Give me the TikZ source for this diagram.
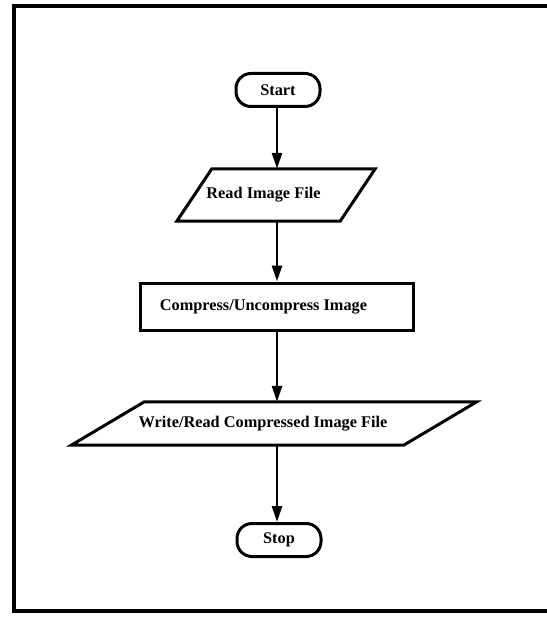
\documentclass[tikz,border=0pt]{standalone}
\usepackage{fontspec}
\setmainfont{Liberation Serif}
\usetikzlibrary{arrows.meta}
\newcommand{\padr}[1]{\makebox[#1]{}}
\begin{document}
\begin{tikzpicture}[x=1pt,y=-1pt,
  lbl/.style={font=\fontsize{16.3}{18}\selectfont\bfseries},
  term/.style={draw, line width=3pt, rounded corners=15pt, minimum width=84pt, minimum height=33pt, inner sep=0pt, lbl},
  proc/.style={draw, line width=3pt, inner sep=0pt, lbl},
  io/.style={inner sep=0pt, lbl},
  shp/.style={line width=3pt, line join=miter},
  flow/.style={line width=2.6pt, -{Triangle[length=16pt,width=10pt]}},
  framed/.style={line width=4.5pt}]
\useasboundingbox (0,0) rectangle (546,617);
\draw[framed] (550,6) -- (14,6) -- (14,611) -- (550,611);

\node[term] (start) at (278,90) {Start};

\node[io, minimum width=163pt, minimum height=52pt] (read) at (276,195) {Read Image File\padr{25pt}};
\draw[shp] ([xshift=17.5pt]read.north west) -- ([xshift=17.5pt]read.north east)
  -- ([xshift=-17.5pt]read.south east) -- ([xshift=-17.5pt]read.south west) -- cycle;

\node[proc, minimum width=273pt, minimum height=47pt] (comp) at (276.5,306.5) {Compress/Uncompress Image\padr{26pt}};

\node[io, minimum width=332pt, minimum height=43pt] (write) at (274,423.5) {Write/Read Compressed Image File\padr{22pt}};
\draw[shp] ([xshift=36.5pt]write.north west) -- ([xshift=36.5pt]write.north east)
  -- ([xshift=-36.5pt]write.south east) -- ([xshift=-36.5pt]write.south west) -- cycle;

\node[term] (stop) at (279,540) {Stop};

\draw[flow] ([xshift=-1pt]start.south) -- ([xshift=-1pt]start.south |- read.north);
\draw[flow] ([xshift=1pt]read.south) -- ([xshift=1pt]read.south |- comp.north);
\draw[flow] ([xshift=0.5pt]comp.south) -- ([xshift=0.5pt]comp.south |- write.north);
\draw[flow] ([xshift=3pt]write.south) -- ([xshift=3pt]write.south |- stop.north);
\end{tikzpicture}
\end{document}
